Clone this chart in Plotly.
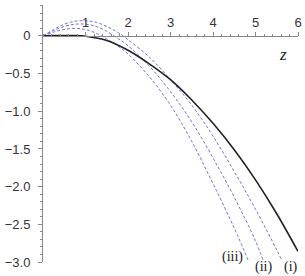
import plotly.graph_objects as go

# Solid (black) curve
z_black = [0, 0.25, 0.5, 0.75, 1.0, 1.5, 2.0, 2.5, 3.0, 3.5, 4.0, 4.5, 5.0, 5.5, 6.0]
y_black = [0, 0.003, 0.005, 0.004, -0.005, -0.06, -0.19, -0.37, -0.58, -0.85, -1.16, -1.51, -1.91, -2.36, -2.86]

# Dashed curves (i), (ii), (iii)
z_i = [0, 0.25, 0.5, 0.75, 1.0, 1.25, 1.5, 1.75, 2.0, 2.5, 3.0, 3.5, 4.0, 4.5, 5.0, 5.5, 5.62]
y_i = [0, 0.085, 0.155, 0.195, 0.20, 0.18, 0.125, 0.05, -0.05, -0.28, -0.58, -0.92, -1.33, -1.80, -2.30, -2.84, -2.98]

z_ii = [0, 0.25, 0.5, 0.75, 1.0, 1.25, 1.5, 1.75, 2.0, 2.5, 3.0, 3.5, 4.0, 4.5, 5.0, 5.18]
y_ii = [0, 0.07, 0.125, 0.155, 0.155, 0.125, 0.06, -0.03, -0.13, -0.40, -0.74, -1.14, -1.62, -2.14, -2.72, -2.98]

z_iii = [0, 0.25, 0.5, 0.75, 1.0, 1.25, 1.5, 1.75, 2.0, 2.5, 3.0, 3.5, 4.0, 4.5, 4.83]
y_iii = [0, 0.05, 0.085, 0.10, 0.085, 0.035, -0.04, -0.13, -0.24, -0.54, -0.92, -1.40, -1.96, -2.55, -2.98]

# Curve labels: text and position (in axis units)
label_text = ["(i)", "(ii)", "(iii)"]
label_z = [5.84, 5.18, 4.47]
label_y = [-3.065, -3.065, -2.93]

# Tick labels
x_tickvals = [1, 2, 3, 4, 5, 6]
x_ticktext = ["1", "2", "3", "4", "5", "6"]
y_tickvals = [0, -0.5, -1.0, -1.5, -2.0, -2.5, -3.0]
y_ticktext = ["0", "\u22120.5", "\u22121.0", "\u22121.5", "\u22122.0", "\u22122.5", "\u22123.0"]

Y_MIN, Y_MAX = -3.0, 0.41
X_MIN, X_MAX = 0, 6


def ypaper(v):
    return (v - Y_MIN) / (Y_MAX - Y_MIN)


dash_color = "#7373d8"
fig = go.Figure()
for zz, yy in [(z_i, y_i), (z_ii, y_ii), (z_iii, y_iii)]:
    fig.add_trace(go.Scatter(x=zz, y=yy, mode="lines",
                             line=dict(color=dash_color, width=1, dash="3px,2px", shape="spline", smoothing=1.0),
                             hoverinfo="skip"))
fig.add_trace(go.Scatter(x=z_black, y=y_black, mode="lines",
                         line=dict(color="#222222", width=1.6, shape="spline", smoothing=1.0),
                         hoverinfo="skip"))

for t, zx, yy in zip(label_text, label_z, label_y):
    fig.add_annotation(x=zx, y=ypaper(yy), xref="x", yref="paper", text=t, showarrow=False,
                       xanchor="center", yanchor="middle",
                       font=dict(family="Liberation Serif", size=14, color="#222"))

fig.add_annotation(x=5.65, y=ypaper(-0.25), xref="x", yref="paper", text="<i>z</i>", showarrow=False,
                   xanchor="center", yanchor="middle",
                   font=dict(family="Liberation Serif", size=17, color="#222"))

zero_pos = ypaper(0)
tickfont = dict(family="Liberation Sans", size=13, color="#333")
fig.update_layout(
    width=305, height=276,
    margin=dict(l=43, r=7, t=5, b=14),
    paper_bgcolor="white", plot_bgcolor="white",
    showlegend=False,
    xaxis=dict(range=[X_MIN, X_MAX], anchor="free", position=zero_pos, side="top", automargin=False,
               showgrid=False, zeroline=False, showline=True, linecolor="#888", linewidth=1,
               ticks="outside", ticklen=4, tickcolor="#888", tickwidth=1, ticklabeloverflow="allow",
               tickvals=x_tickvals, ticktext=x_ticktext, tickfont=tickfont,
               minor=dict(dtick=0.2, tick0=0, ticks="outside", ticklen=2, tickcolor="#888", showgrid=False)),
    yaxis=dict(range=[Y_MIN, Y_MAX], showgrid=False, zeroline=False, showline=True, automargin=False,
               linecolor="#888", linewidth=1, ticks="outside", ticklen=4, tickcolor="#888",
               ticklabeloverflow="allow",
               tickvals=y_tickvals, ticktext=y_ticktext, tickfont=tickfont, ticklabelstandoff=5,
               minor=dict(dtick=0.1, tick0=0, ticks="outside", ticklen=2, tickcolor="#888", showgrid=False)),
)

fig.write_html("out.html", config={"displayModeBar": False},
               post_script="document.body.style.margin='0';")
